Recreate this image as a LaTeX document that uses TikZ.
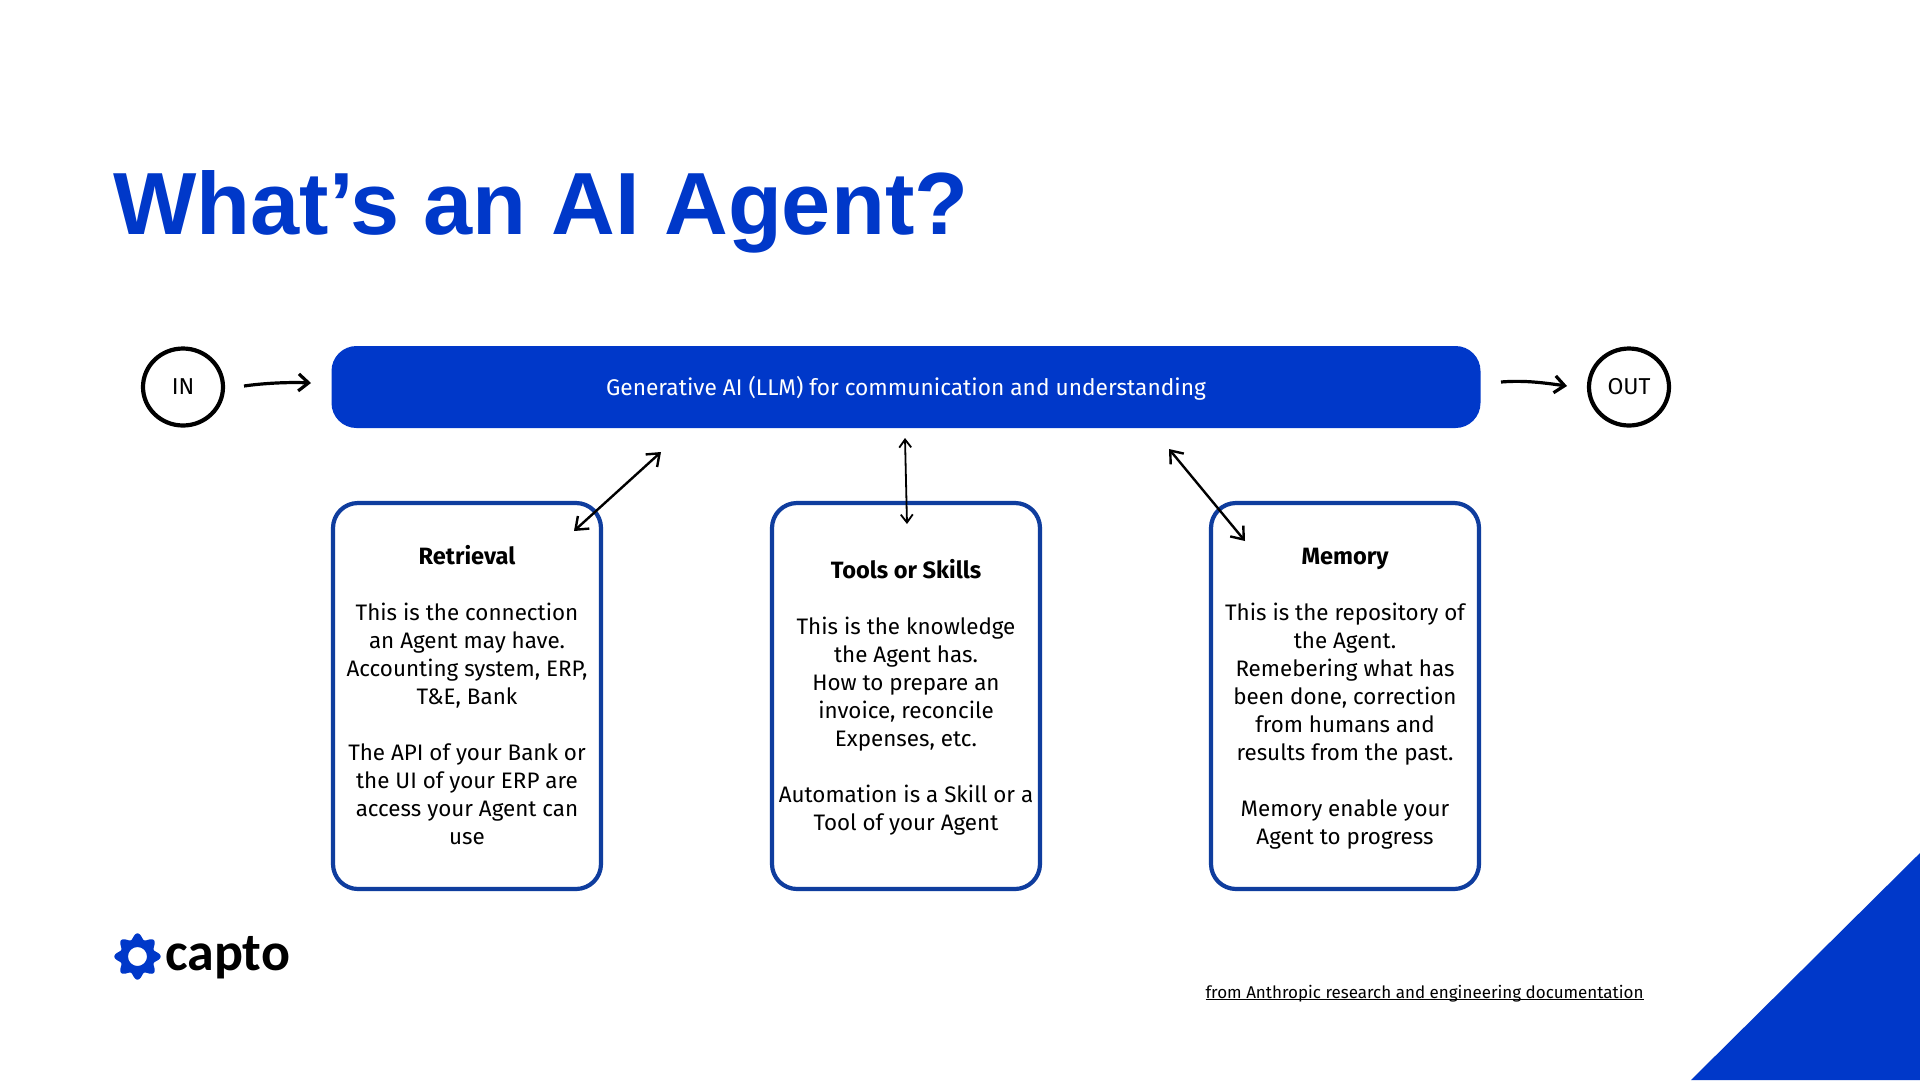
\documentclass[tikz,border=0pt]{standalone}
\usepackage{fontspec}
\setmainfont{Fira Sans}
\newfontfamily\titlefont{Liberation Sans}
\newfontfamily\logofont{Carlito}
\usetikzlibrary{arrows.meta,shapes.geometric}
\definecolor{capblue}{HTML}{0038C9}
\definecolor{boxblue}{HTML}{0F3D9E}
\newcommand{\cardhead}[1]{\rule{0pt}{25.6pt}{\fontsize{23.6}{28}\selectfont\bfseries #1}}
\tikzset{
  x=1pt,y=-1pt,
  bartxt/.style={font=\fontsize{22.7}{28}\selectfont},
  circ/.style={draw=black,line width=4.2pt,ellipse,inner sep=0pt,minimum width=80pt,minimum height=77pt,font=\fontsize{23}{28}\selectfont},
  card/.style={draw=boxblue,line width=4.2pt,rounded corners=25pt,minimum width=268pt,minimum height=386pt,inner sep=0pt,align=center,font=\fontsize{22.4}{28}\selectfont},
  flow/.style={draw=black,line width=3.2pt,-{Straight Barb[length=10pt,width=17pt,line width=3.2pt]}},
  link/.style={draw=black,line width=2.4pt,{Straight Barb[length=11pt,width=17pt,line width=2.4pt]}-{Straight Barb[length=11pt,width=17pt,line width=2.4pt]}},
  thinlink/.style={draw=black,line width=1.8pt,{Straight Barb[length=8pt,width=12pt,line width=1.8pt]}-{Straight Barb[length=8pt,width=12pt,line width=1.8pt]}},
}
\begin{document}
\begin{tikzpicture}
\useasboundingbox (0,0) rectangle (1920,1080);
\fill[white] (0,0) rectangle (1920,1080);
\fill[capblue] (1920,853) -- (1920,1080) -- (1691,1080) -- cycle;
\node[anchor=base west,inner sep=0pt,text=capblue,font=\titlefont\bfseries\fontsize{88.3}{100}\selectfont] (title) at (113,234) {What’s an AI Agent?};
\node[circ] (in) at (183,387) {IN};
\node[circ] (out) at (1629,387) {OUT};
\node[fill=capblue,rounded corners=25pt,minimum width=1149pt,minimum height=82pt,inner sep=0pt,text=white,bartxt] (llm) at (906,387) {\rule{0pt}{22pt}Generative AI (LLM) for communication and understanding};
\node[card] (ret) at (467,696) {\cardhead{Retrieval}\\[28pt]This is the connection\\an Agent may have.\\Accounting system, ERP,\\T\&E, Bank\\[28pt]The API of your Bank or\\the UI of your ERP are\\access your Agent can\\use\strut};
\node[card] (tool) at (906,696) {\cardhead{Tools or Skills}\\[28pt]This is the knowledge\\the Agent has.\\How to prepare an\\invoice, reconcile\\Expenses, etc.\\[28pt]Automation is a Skill or a\\Tool of your Agent\strut};
\node[card] (mem) at (1345,696) {\cardhead{Memory}\\[28pt]This is the repository of\\the Agent.\\Remebering what has\\been done, correction\\from humans and\\results from the past.\\[28pt]Memory enable your\\Agent to progress\strut};
\coordinate (a1) at (244,386); \coordinate (a2) at (311,383);
\coordinate (b1) at (1501,382); \coordinate (b2) at (1567,386);
\draw[flow] (a1) .. controls (265,383) and (290,382) .. (a2);
\draw[flow] (b1) .. controls (1525,380) and (1545,383) .. (b2);
\coordinate (c1) at (574,531); \coordinate (c2) at (661,452);
\coordinate (d1) at (905,438); \coordinate (d2) at (907,524);
\coordinate (e1) at (1169,449); \coordinate (e2) at (1245,541);
\draw[link] (c1) -- (c2);
\draw[thinlink] (d1) -- (d2);
\draw[link] (e1) -- (e2);
\fill[capblue,even odd rule] plot[domain=0:360,samples=240,smooth] ({137.5+(20.3+2.8*cos(8*\x))*cos(\x)},{956.5+(20.3+2.8*cos(8*\x))*sin(\x)}) -- cycle (137.5,956.5) circle[radius=9.5];
\node[anchor=base west,inner sep=0pt,font=\logofont\bfseries\fontsize{54}{60}\selectfont] (logo) at (165,970) {capto};
\node[anchor=base,inner sep=0pt,font=\fontsize{17}{20}\selectfont] (src) at (1424.5,998) {\underline{\smash{from Anthropic research and engineering documentation}}};
\end{tikzpicture}
\end{document}
